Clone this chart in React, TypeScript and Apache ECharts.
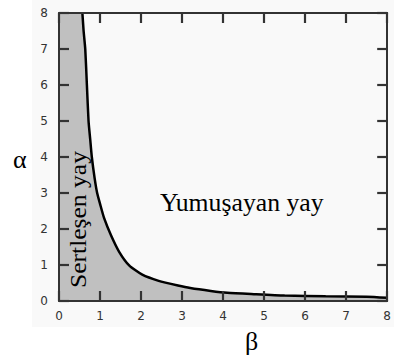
import React, { useEffect, useRef } from "react";
import * as echarts from "echarts";

const betaValues = [0.57, 0.6, 0.64, 0.68, 0.72, 0.76, 0.8, 0.87, 0.93, 1.0, 1.1, 1.27, 1.47, 1.71, 2.03, 2.43, 2.9, 3.2, 3.7, 4.1, 4.75, 5.5, 6.5, 7.5, 8.0];
const alphaValues = [8.0, 7.5, 7.0, 6.0, 5.0, 4.5, 4.0, 3.4, 3.0, 2.7, 2.3, 1.82, 1.36, 0.99, 0.73, 0.56, 0.43, 0.36, 0.28, 0.23, 0.19, 0.15, 0.13, 0.12, 0.09];
const tickValues = [0, 1, 2, 3, 4, 5, 6, 7, 8];
const xLabel = "β";
const yLabel = "α";
const regionSoft = "Yumuşayan yay";
const regionHard = "Sertleşen yay";

export default function App() {
  const ref = useRef<HTMLDivElement>(null);
  useEffect(() => {
    if (!ref.current) return;
    const chart = echarts.init(ref.current, null, { renderer: "svg" });
    const curve = betaValues.map((b, i) => [b, alphaValues[i]]);
    const yMax = tickValues[tickValues.length - 1];
    const fill = [[tickValues[0], yMax], ...curve];
    const mkAxis = (position: string, showLabel: boolean, margin: number) => ({
      type: "value",
      position,
      z: 10,
      min: tickValues[0],
      max: yMax,
      interval: 1,
      axisLine: { show: true, onZero: false, lineStyle: { color: "#333333", width: 2 } },
      axisTick: { show: true, inside: true, length: 10, lineStyle: { color: "#333333", width: 2.2 } },
      splitLine: { show: false },
      axisLabel: { show: showLabel, color: "#333", fontFamily: "DejaVu Sans", fontSize: 12, margin },
    });
    chart.setOption({
      animation: false,
      backgroundColor: "#f9f9f9",
      grid: { left: 59, right: 2, top: 13, bottom: 59 },
      xAxis: [mkAxis("bottom", true, 9), mkAxis("top", false, 8)],
      yAxis: [mkAxis("left", true, 11), mkAxis("right", false, 8)],
      graphic: [
        { type: "rect", silent: true, shape: { x: 0, y: 0, width: 32, height: 360 }, style: { fill: "#ffffff" } },
        { type: "rect", silent: true, shape: { x: 0, y: 327, width: 394, height: 33 }, style: { fill: "#ffffff" } },
        { type: "text", x: 13, y: 146, z: 10, style: { text: yLabel, font: "26px serif", fill: "#000" } },
        { type: "text", x: 245, y: 328, z: 10, style: { text: xLabel, font: "26px serif", fill: "#000" } },
        { type: "text", x: 160, y: 189.5, z: 10, scaleX: 1.03, style: { text: regionSoft, font: "25px serif", fill: "#000" } },
        { type: "text", x: 65.5, y: 288, z: 10, rotation: Math.PI / 2, scaleX: 1.065, style: { text: regionHard, font: "24px serif", fill: "#000" } },
      ],
      series: [
        { type: "line", data: fill, symbol: "none", lineStyle: { width: 0 }, areaStyle: { color: "#c0c0c0", opacity: 1 }, z: 1 },
        { type: "line", data: curve, symbol: "none", smooth: 0.2, lineStyle: { color: "#000", width: 2.5 }, z: 2 },
      ],
    });
    return () => chart.dispose();
  }, []);
  return <div ref={ref} style={{ position: "fixed", left: 0, top: 0, width: 394, height: 360 }} />;
}
